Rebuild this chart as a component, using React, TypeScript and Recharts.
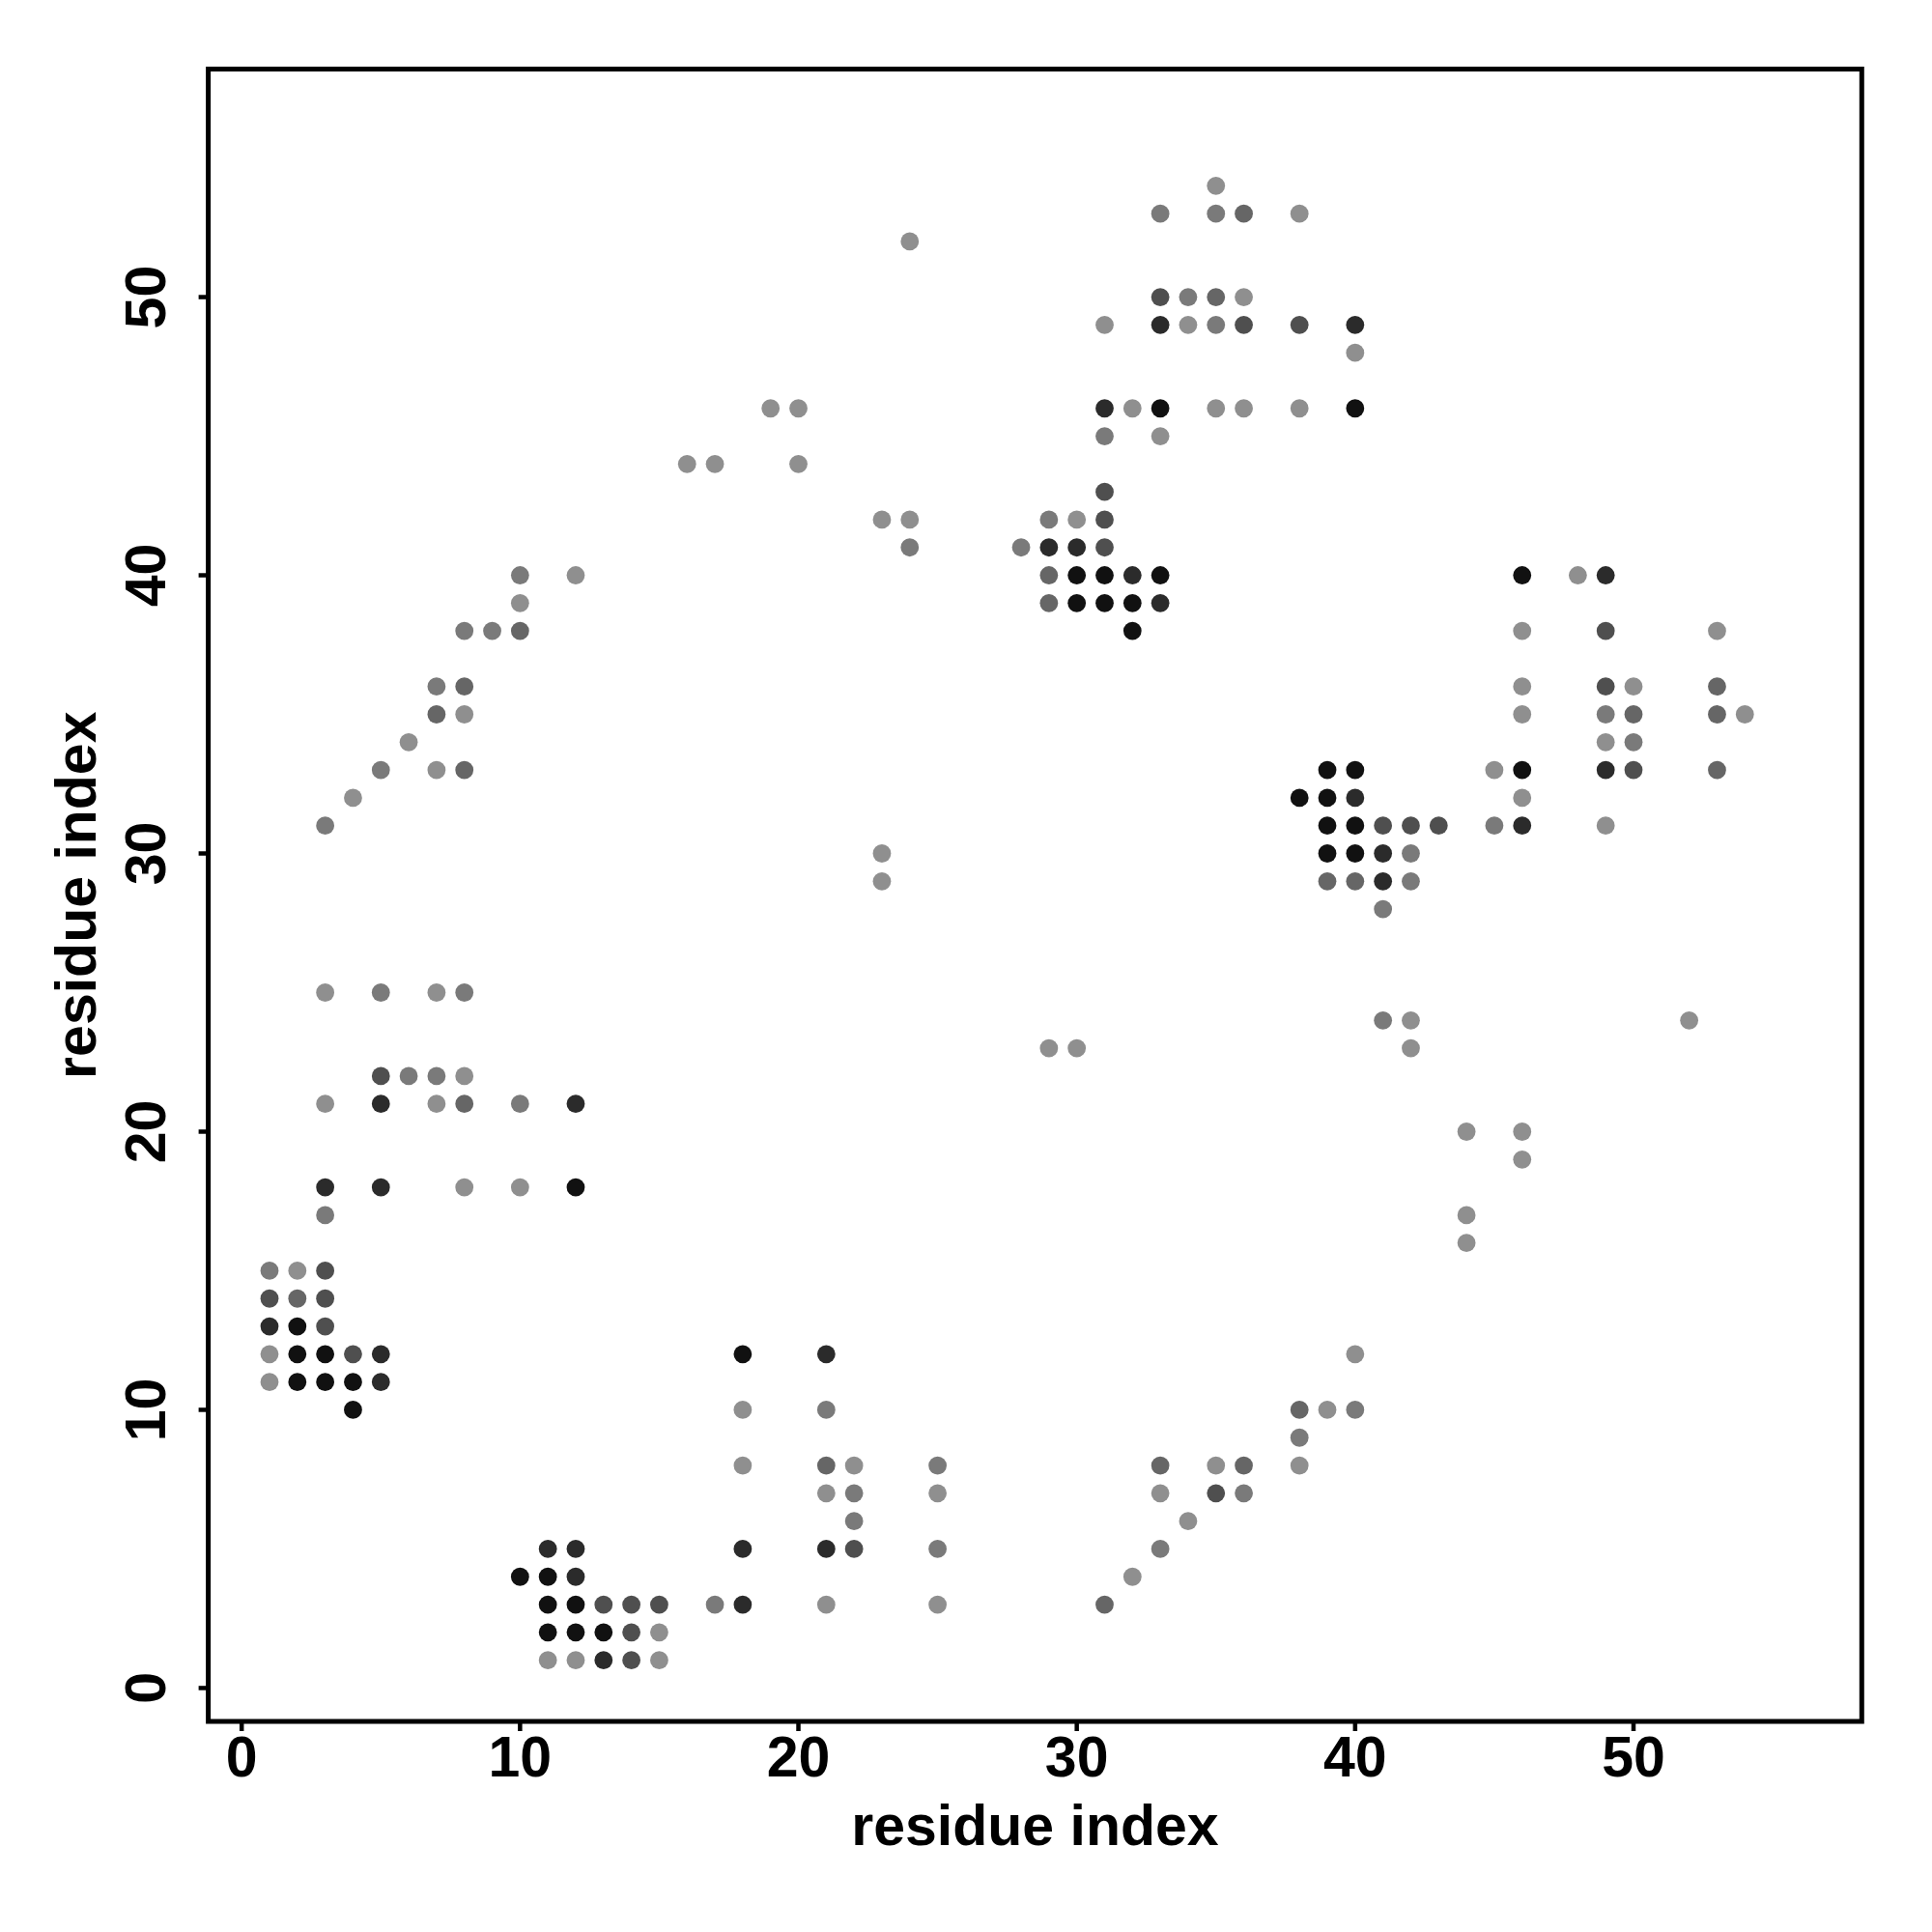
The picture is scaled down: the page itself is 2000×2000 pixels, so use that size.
import React from 'react';
import { ScatterChart, Scatter, XAxis, YAxis, ReferenceArea, Label } from 'recharts';

type Pt = [number, number];

// contact map points, grouped by how dark the dot is (light -> black)
const lightPts: Pt[] = [
  [35, 54], [38, 53], [36, 50], [31, 49], [34, 49], [40, 48], [32, 46], [35, 46], [36, 46], [38, 46], [33, 45], [30, 42],
  [3, 25], [7, 25], [8, 22], [3, 21], [7, 21], [8, 18], [10, 18], [2, 15], [1, 12], [1, 11],
  [18, 10], [18, 8], [22, 8], [21, 7], [25, 7], [21, 3], [25, 3], [15, 2], [11, 1], [12, 1], [15, 1],
  [48, 40], [46, 38], [53, 38], [46, 36], [50, 36], [46, 35], [54, 35], [49, 34], [45, 33], [46, 32], [49, 31],
  [42, 24], [42, 23], [52, 24], [29, 23], [30, 23], [44, 20], [46, 20], [46, 19], [44, 17], [44, 16], [40, 12],
  [39, 10], [38, 8], [35, 8], [33, 7], [34, 6], [32, 4],
  [24, 52], [19, 46], [20, 46], [16, 44], [17, 44], [20, 44], [23, 42], [24, 42], [12, 40], [10, 39], [8, 35],
  [6, 34], [7, 33], [4, 32], [23, 30], [23, 29],
];

const midPts: Pt[] = [
  [33, 53], [35, 53], [34, 50], [35, 49], [31, 45], [29, 42], [28, 41],
  [5, 25], [8, 25], [6, 22], [7, 22], [10, 21], [3, 17], [1, 15],
  [21, 10], [25, 8], [22, 7], [22, 6], [25, 5], [17, 3],
  [49, 35], [50, 34], [45, 31], [42, 30], [42, 29], [41, 28],
  [41, 24], [40, 10], [38, 9], [36, 7], [33, 5],
  [24, 41], [10, 40], [8, 38], [9, 38], [7, 36], [5, 33], [3, 31],
];

const midDarkPts: Pt[] = [
  [36, 53], [35, 50], [29, 40], [29, 39],
  [8, 21], [2, 14], [21, 8],
  [53, 36], [50, 35], [53, 35], [53, 33], [39, 29], [40, 29],
  [38, 10], [33, 8], [36, 8], [31, 3],
  [10, 38], [8, 36], [7, 35], [8, 33],
];

const darkPts: Pt[] = [
  [33, 50], [36, 49], [38, 49], [31, 43], [31, 42], [31, 41],
  [5, 22], [3, 15], [1, 14], [3, 14], [3, 13], [4, 12],
  [22, 5], [13, 3], [14, 3], [15, 3], [14, 2], [14, 1],
  [49, 38], [49, 36], [50, 33], [41, 31], [42, 31], [43, 31],
  [35, 7],
];

const veryDarkPts: Pt[] = [
  [33, 49], [40, 49], [31, 46], [29, 41], [30, 41], [32, 40], [33, 39],
  [5, 21], [12, 21], [3, 18], [5, 18], [1, 13], [5, 12], [5, 11],
  [21, 12], [11, 5], [12, 5], [18, 5], [21, 5], [12, 4], [18, 3], [13, 1],
  [49, 40], [49, 33], [46, 31], [40, 32], [41, 30], [41, 29],
];

const blackPts: Pt[] = [
  [33, 46], [40, 46], [30, 40], [31, 40], [33, 40], [30, 39], [31, 39], [32, 39], [32, 38],
  [12, 18], [2, 13], [2, 12], [3, 12], [2, 11], [3, 11], [4, 11], [4, 10],
  [18, 12], [10, 4], [11, 4], [11, 3], [12, 3], [11, 2], [12, 2], [13, 2],
  [46, 40], [46, 33], [39, 33], [40, 33], [38, 32], [39, 32], [39, 31], [40, 31], [39, 30], [40, 30],
];

const axisTicks = [0, 10, 20, 30, 40, 50];
const axisLimits: [number, number] = [-1.2, 58.2];

const shades = [
  { name: 'light', color: '#8f8f8f', pts: lightPts },
  { name: 'mid', color: '#7a7a7a', pts: midPts },
  { name: 'midDark', color: '#666666', pts: midDarkPts },
  { name: 'dark', color: '#4f4f4f', pts: darkPts },
  { name: 'veryDark', color: '#2b2b2b', pts: veryDarkPts },
  { name: 'black', color: '#111111', pts: blackPts },
];

// layout
const W = 2000;
const H = 2000;
const PLOT = { left: 215.6, top: 71.4, right: 1927.3, bottom: 1782 };
const Y_AXIS_W = 120;
const X_AXIS_H = 120;
const FONT = '"Liberation Sans", Arial, Helvetica, sans-serif';
const FONT_SIZE = 59;

const Dot = (props: any) => <circle cx={props.cx} cy={props.cy} r={9.4} fill={props.fill} />;

const XTick = ({ x, y, payload }: any) => (
  <text x={x} y={y + 47} textAnchor="middle" fontFamily={FONT} fontWeight="bold" fontSize={FONT_SIZE} fill="#000">
    {payload.value}
  </text>
);

const YTick = ({ x, y, payload }: any) => {
  const bx = x - 35;
  return (
    <text
      x={bx}
      y={y}
      transform={`rotate(-90 ${bx} ${y})`}
      textAnchor="middle"
      fontFamily={FONT}
      fontWeight="bold"
      fontSize={FONT_SIZE}
      fill="#000"
    >
      {payload.value}
    </text>
  );
};

const XTitle = () => (
  <text x={(PLOT.left + PLOT.right) / 2} y={1910} textAnchor="middle" fontFamily={FONT} fontWeight="bold" fontSize={FONT_SIZE} fill="#000">
    residue index
  </text>
);

const YTitle = () => {
  const cx = 99;
  const cy = (PLOT.top + PLOT.bottom) / 2;
  return (
    <text
      x={cx}
      y={cy}
      transform={`rotate(-90 ${cx} ${cy})`}
      textAnchor="middle"
      fontFamily={FONT}
      fontWeight="bold"
      fontSize={FONT_SIZE}
      fill="#000"
    >
      residue index
    </text>
  );
};

export default function App() {
  return (
    <div style={{ position: 'absolute', left: 0, top: 0, width: W, height: H, background: '#fff' }}>
      <ScatterChart
        width={W}
        height={H}
        margin={{
          top: PLOT.top,
          right: W - PLOT.right,
          left: PLOT.left - Y_AXIS_W,
          bottom: H - PLOT.bottom - X_AXIS_H,
        }}
      >
        <XAxis
          type="number"
          dataKey="x"
          domain={axisLimits}
          ticks={axisTicks}
          allowDataOverflow
          height={X_AXIS_H}
          axisLine={false}
          tickSize={10}
          tickMargin={0}
          tickLine={{ stroke: '#000', strokeWidth: 4.5 }}
          tick={<XTick />}
          label={<Label content={<XTitle />} />}
        />
        <YAxis
          type="number"
          dataKey="y"
          domain={axisLimits}
          ticks={axisTicks}
          allowDataOverflow
          width={Y_AXIS_W}
          axisLine={false}
          tickSize={10}
          tickMargin={0}
          tickLine={{ stroke: '#000', strokeWidth: 4.5 }}
          tick={<YTick />}
          label={<Label content={<YTitle />} />}
        />
        <ReferenceArea
          x1={axisLimits[0]}
          x2={axisLimits[1]}
          y1={axisLimits[0]}
          y2={axisLimits[1]}
          fill="none"
          fillOpacity={0}
          stroke="#000"
          strokeWidth={5}
          ifOverflow="visible"
        />
        {shades.map((s) => (
          <Scatter
            key={s.name}
            name={s.name}
            data={s.pts.map(([x, y]) => ({ x, y }))}
            fill={s.color}
            shape={<Dot />}
            isAnimationActive={false}
          />
        ))}
      </ScatterChart>
    </div>
  );
}
